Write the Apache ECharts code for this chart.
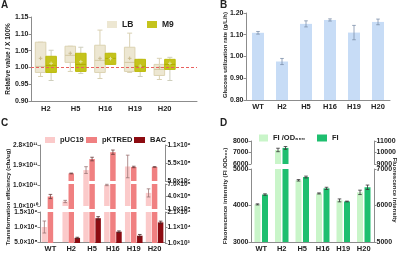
<!DOCTYPE html>
<html>
<head>
<meta charset="utf-8">
<script src="https://cdn.jsdelivr.net/npm/echarts@6/dist/echarts.min.js"></script>
<style>
html,body{margin:0;padding:0;background:#fff}
#main{width:400px;height:253px}
</style>
</head>
<body>
<div id="main"></div>
<script>
// ---- data ----
// A: box plots, rows are [min, Q1, median, Q3, max, mean]
var strainsA = ['H2', 'H5', 'H16', 'H19', 'H20'];
var boxLB = [
	[0.973, 0.985, 1.003, 1.075, 1.075, 1.027],
	[0.988, 1.015, 1.036, 1.063, 1.063, 1.042],
	[0.967, 0.985, 1.021, 1.066, 1.111, 1.027],
	[0.985, 0.988, 1.015, 1.060, 1.102, 1.027],
	[0.964, 0.976, 0.994, 1.009, 1.027, 1.000]
];
var boxM9 = [
	[0.961, 0.985, 1.006, 1.033, 1.051, 1.012],
	[0.982, 0.988, 1.009, 1.042, 1.060, 1.017],
	[1.009, 1.009, 1.027, 1.042, 1.042, 1.026],
	[0.973, 0.988, 1.003, 1.024, 1.024, 1.004],
	[0.961, 0.994, 1.009, 1.024, 1.030, 1.012]
];
var refLine = 1.0;

// B: glucose utilization rate
var strains = ['WT', 'H2', 'H5', 'H16', 'H19', 'H20'];
var glucoseRate = [1.109, 0.977, 1.150, 1.168, 1.110, 1.159];
var glucoseErr = [0.006, 0.014, 0.014, 0.005, 0.033, 0.013];

// C: transformation efficiency
var pUC19 = [1.0e9, 3.0e10, 1.69e11, 1.03e11, 1.85e11, 6.8e10];
var pUC19Err = [0.2e9, 0.5e10, 1.5e10, 0.3e10, 5e10, 1.8e10];
var pKTRED = [4.0e5, 2.6e8, 6.6e8, 8.5e8, 4.4e8, 4.4e8];
var pKTREDErr = [0.5e5, 0.1e8, 0.5e8, 0.6e8, 0.2e8, 0.1e8];
var BAC = ['-', 4.3e3, 1.7e4, 8.3e3, 5.7e3, 1.43e4];
var BACErr = [0, 0.4e3, 1.0e3, 0.5e3, 0.8e3, 0.8e3];
// C tick values and labels, per axis segment
var ticksL1 = [1e10, 1e11, 1.9e11, 2.8e11];
var labelsL1 = ['1.0×10¹⁰', '1.0×10¹¹', '1.9×10¹¹', '2.8×10¹¹'];
var ticksL2 = [5e8, 1e9, 1.5e9];
var labelsL2 = ['5.0×10⁸', '1.0×10⁹', '1.5×10⁹'];
var ticksR1 = [5e7, 5.5e8, 1.05e9];
var labelsR1 = ['5.0×10⁷', '5.5×10⁸', '1.1×10⁹'];
var ticksR2 = [1e5, 4e5, 7e5];
var labelsR2 = ['1.0×10⁵', '4.0×10⁵', '7.0×10⁵'];
var ticksR3 = [1e3, 1.1e4, 2.1e4];
var labelsR3 = ['1.0×10³', '1.1×10⁴', '2.1×10⁴'];

// D: fluorescence
var fiOd = [4030, 7220, 4690, 4330, 4140, 4360];
var fiOdErr = [15, 150, 20, 15, 40, 60];
var fi = [6300, 10400, 6780, 6470, 6110, 6500];
var fiErr = [20, 120, 25, 30, 10, 60];
var ticksDLeftUp = [6000, 7000, 8000];
var ticksDLeftLow = [3000, 4000, 5000];
var ticksDRightUp = [9000, 10000, 11000];
var ticksDRightLow = [5000, 6000, 7000];

// ---- styles ----
var FONT = 'Liberation Sans';
var AXIS_COLOR = '#8c8c8c';
var TXT = '#222';

function pick(vals, labels) {
	return function (v) {
		var best = 0;
		for (var i = 1; i < vals.length; i++) {
			if (Math.abs(vals[i] - v) < Math.abs(vals[best] - v)) best = i;
		}
		return labels ? labels[best] : String(vals[best]);
	};
}

function tickAxis(grid, pos, min, max, vals, labels, fs) {
	return {
		gridIndex: grid, type: 'value', position: pos, min: min, max: max,
		axisLine: {show: true, onZero: false, lineStyle: {color: AXIS_COLOR, width: 1}},
		axisTick: {show: true, length: 2.5, customValues: vals, lineStyle: {color: AXIS_COLOR}},
		axisLabel: {customValues: vals, formatter: pick(vals, labels), fontSize: fs || 6.5, margin: 2.5,
			color: TXT, fontWeight: 'bold', fontFamily: FONT},
		splitLine: {show: false}
	};
}

function catAxis(grid, show) {
	return {
		gridIndex: grid, type: 'category', data: strains, show: show,
		axisLine: {onZero: false, lineStyle: {color: AXIS_COLOR, width: 1}},
		axisTick: {show: false},
		axisLabel: {fontSize: 7.5, margin: 3, color: TXT, fontWeight: 'bold', fontFamily: FONT}
	};
}

// error bars drawn at (category, value) with a pixel shift for grouped bars
function errorSeries(xi, yi, vals, errs, dx, color) {
	return {
		type: 'custom', xAxisIndex: xi, yAxisIndex: yi, z: 5, silent: true,
		data: vals.map(function (v, i) { return [i, v, errs[i]]; }),
		renderItem: function (params, api) {
			var i = api.value(0), v = api.value(1), e = api.value(2);
			if (isNaN(v)) return;
			var cs = params.coordSys;
			var top = api.coord([i, v]);
			if (top[1] < cs.y - 0.5 || top[1] > cs.y + cs.height + 0.5) return;
			var x = top[0] + dx;
			var y1 = Math.max(cs.y, api.coord([i, v + e])[1]);
			var y2 = Math.min(cs.y + cs.height, api.coord([i, v - e])[1]);
			var st = {stroke: color, lineWidth: 0.8};
			return {type: 'group', children: [
				{type: 'line', shape: {x1: x, y1: y1, x2: x, y2: y2}, style: st},
				{type: 'line', shape: {x1: x - 1.8, y1: y1, x2: x + 1.8, y2: y1}, style: st},
				{type: 'line', shape: {x1: x - 1.8, y1: y2, x2: x + 1.8, y2: y2}, style: st}
			]};
		}
	};
}

function boxSeries(name, rows, side, c) {
	return {
		type: 'custom', name: name, xAxisIndex: 0, yAxisIndex: 0,
		itemStyle: {color: c.fill, borderColor: c.stroke},
		data: rows.map(function (r, i) { return [i].concat(r); }),
		renderItem: function (params, api) {
			var i = api.value(0);
			var bw = api.size([1, 0])[0] * 0.355;
			var cx = api.coord([i, 1])[0];
			var x0 = side < 0 ? cx - bw : cx;
			var xm = x0 + bw / 2;
			var y = function (k) { return api.coord([i, api.value(k)])[1]; };
			var ln = function (x1, y1, x2, y2, col) {
				return {type: 'line', shape: {x1: x1, y1: y1, x2: x2, y2: y2}, style: {stroke: col, lineWidth: 1}};
			};
			var yMin = y(1), yQ1 = y(2), yMed = y(3), yQ3 = y(4), yMax = y(5), yMean = y(6);
			return {type: 'group', children: [
				ln(xm, yMax, xm, yQ3, c.whisker), ln(xm - 2.5, yMax, xm + 2.5, yMax, c.whisker),
				ln(xm, yQ1, xm, yMin, c.whisker), ln(xm - 2.5, yMin, xm + 2.5, yMin, c.whisker),
				{type: 'rect', shape: {x: x0, y: yQ3, width: bw, height: yQ1 - yQ3},
					style: {fill: c.fill, stroke: c.stroke, lineWidth: 1}},
				ln(x0, yMed, x0 + bw, yMed, c.median),
				ln(xm - 1.8, yMean, xm + 1.8, yMean, c.mean), ln(xm, yMean - 1.8, xm, yMean + 1.8, c.mean)
			]};
		}
	};
}

function legendOne(name, left, top, fs, iw, ih) {
	return {
		data: [name], left: left, top: top, itemWidth: iw, itemHeight: ih, padding: 0,
		icon: 'rect', selectedMode: false,
		textStyle: {fontSize: fs, fontWeight: 'bold', color: TXT, fontFamily: FONT}
	};
}

function titleText(str, x, y, rot, fs) {
	return {
		type: 'text', x: x, y: y, rotation: rot,
		style: {text: str, fontSize: fs, fontWeight: 'bold', fontFamily: FONT, fill: TXT,
			align: 'center', verticalAlign: 'middle'}
	};
}

// ---- layout ----
var grids = [
	{left: 31, top: 17, width: 166, height: 84},   // A
	{left: 246, top: 13, width: 144, height: 87},  // B
	{left: 40, top: 145, width: 125, height: 61},  // C left upper
	{left: 40, top: 212, width: 125, height: 31},  // C left lower
	{left: 40, top: 145, width: 125, height: 36},  // C right upper
	{left: 40, top: 184, width: 125, height: 25},  // C right middle
	{left: 40, top: 212, width: 125, height: 31},  // C right lower
	{left: 251, top: 141, width: 123, height: 23}, // D upper
	{left: 251, top: 169, width: 123, height: 74}  // D lower
];

var xAxes = [
	{
		gridIndex: 0, type: 'value', min: -0.5, max: 5.09,
		axisLine: {onZero: false, lineStyle: {color: AXIS_COLOR, width: 1}},
		axisTick: {show: false}, splitLine: {show: false},
		axisLabel: {customValues: [0, 1, 2, 3, 4], formatter: function (v) { return strainsA[Math.round(v)]; },
			fontSize: 7.5, margin: 4, color: TXT, fontWeight: 'bold', fontFamily: FONT}
	},
	catAxis(1, true),
	catAxis(2, false), catAxis(3, true),
	catAxis(4, false), catAxis(5, false), catAxis(6, false),
	catAxis(7, false), catAxis(8, true)
];

var yA = tickAxis(0, 'left', 0.9, 1.15, [0.9, 0.95, 1.0, 1.05, 1.1, 1.15],
	['0.90', '0.95', '1.00', '1.05', '1.10', '1.15'], 7);
var yB = tickAxis(1, 'left', 0.8, 1.2, [0.8, 0.9, 1.0, 1.1, 1.2],
	['0.80', '0.90', '1.00', '1.10', '1.20'], 7);
var yAxes = [
	yA, yB,
	tickAxis(2, 'left', 1e10, 2.8e11, ticksL1, labelsL1),
	tickAxis(3, 'left', 5e8, 1.5e9, ticksL2, labelsL2),
	tickAxis(4, 'right', 5e7, 1.05e9, ticksR1, labelsR1),
	tickAxis(5, 'right', 1e5, 7e5, ticksR2, labelsR2),
	tickAxis(6, 'right', 1e3, 2.1e4, ticksR3, labelsR3),
	tickAxis(7, 'left', 6000, 8000, ticksDLeftUp, null, 7),
	tickAxis(7, 'right', 9000, 11000, ticksDRightUp, null, 7),
	tickAxis(8, 'left', 3000, 5000, ticksDLeftLow, null, 7),
	tickAxis(8, 'right', 5000, 7000, ticksDRightLow, null, 7)
];

var series = [];

// A
var lbStyle = {fill: '#ede7d2', stroke: '#dcd3b2', whisker: '#d9d1b3', median: '#d2c7a0', mean: '#c9bb8f'};
var m9Style = {fill: '#c4c31c', stroke: '#bcbb0c', whisker: '#cfcfbd', median: '#adac00', mean: '#e4e39a'};
series.push(boxSeries('LB', boxLB, -1, lbStyle));
series.push(boxSeries('M9', boxM9, 1, m9Style));
// dashed reference line at 1.00 across the whole plot
series.push({
	type: 'custom', xAxisIndex: 0, yAxisIndex: 0, z: 10, silent: true,
	data: [[0, refLine]],
	renderItem: function (params, api) {
		var cs = params.coordSys;
		var y = Math.round(api.coord([0, api.value(1)])[1]) + 0.5;
		return {type: 'line', shape: {x1: cs.x, y1: y, x2: cs.x + cs.width, y2: y},
			style: {stroke: '#e8605f', lineWidth: 1, lineDash: [3, 2]}};
	}
});

// B
series.push({
	type: 'bar', xAxisIndex: 1, yAxisIndex: 1, data: glucoseRate, barWidth: 12,
	itemStyle: {color: '#c7dcf6'}
});
series.push(errorSeries(1, 1, glucoseRate, glucoseErr, 0, '#7d90ab'));

// C: each axis segment gets all three bars so the groups line up
var cSeries = [
	{name: 'pUC19', vals: pUC19, errs: pUC19Err, color: '#fbcaca', err: '#9a7474', dx: -6.05},
	{name: 'pKTRED', vals: pKTRED, errs: pKTREDErr, color: '#f08081', err: '#6b3d3d', dx: 0},
	{name: 'BAC', vals: BAC, errs: BACErr, color: '#8c0b11', err: '#4a2a2a', dx: 6.05}
];
var cSegments = [
	{axis: 2, use: ['pUC19']}, {axis: 3, use: ['pUC19']},
	{axis: 4, use: ['pKTRED', 'BAC']}, {axis: 5, use: ['pKTRED', 'BAC']}, {axis: 6, use: ['pKTRED', 'BAC']}
];
var empty = strains.map(function () { return '-'; });
cSegments.forEach(function (seg) {
	cSeries.forEach(function (s) {
		var on = seg.use.indexOf(s.name) >= 0;
		series.push({
			type: 'bar', name: s.name, xAxisIndex: seg.axis, yAxisIndex: seg.axis,
			data: on ? s.vals : empty, barWidth: 5.5, barGap: '10%',
			itemStyle: {color: s.color}
		});
		if (on) series.push(errorSeries(seg.axis, seg.axis, s.vals, s.errs, s.dx, s.err));
	});
});

// D
[[7, 7, 8], [8, 9, 10]].forEach(function (d) {
	series.push({type: 'bar', name: 'FI /OD₆₀₀', xAxisIndex: d[0], yAxisIndex: d[1], data: fiOd,
		barWidth: 6, barGap: '25%', itemStyle: {color: '#c9f5c9'}});
	series.push({type: 'bar', name: 'FI', xAxisIndex: d[0], yAxisIndex: d[2], data: fi,
		barWidth: 6, barGap: '25%', itemStyle: {color: '#1ebf6f'}});
	series.push(errorSeries(d[0], d[1], fiOd, fiOdErr, -3.75, '#333'));
	series.push(errorSeries(d[0], d[2], fi, fiErr, 3.75, '#333'));
});

var option = {
	animation: false,
	textStyle: {fontFamily: FONT},
	grid: grids,
	xAxis: xAxes,
	yAxis: yAxes,
	legend: [
		legendOne('LB', 107, 20, 8.5, 10, 7),
		legendOne('M9', 147, 20, 8.5, 10, 7),
		legendOne('pUC19', 45, 136, 7.5, 10, 6),
		legendOne('pKTRED', 86, 136, 7.5, 11, 6),
		legendOne('BAC', 134, 136, 7.5, 11, 6),
		legendOne('FI /OD₆₀₀', 259, 134, 7.5, 9, 7),
		legendOne('FI', 317, 134, 7.5, 10, 7)
	],
	graphic: [
		{type: 'text', left: 1, top: 0, style: {text: 'A', fontSize: 10, fontWeight: 'bold', fontFamily: FONT, fill: TXT}},
		{type: 'text', left: 220, top: 0, style: {text: 'B', fontSize: 10, fontWeight: 'bold', fontFamily: FONT, fill: TXT}},
		{type: 'text', left: 1, top: 118, style: {text: 'C', fontSize: 10, fontWeight: 'bold', fontFamily: FONT, fill: TXT}},
		{type: 'text', left: 220, top: 118, style: {text: 'D', fontSize: 10, fontWeight: 'bold', fontFamily: FONT, fill: TXT}},
		titleText('Relative value / X 100%', 8, 59, Math.PI / 2, 6.5),
		titleText('Glucose utilization rate (g/L/h)', 225, 55, Math.PI / 2, 6),
		titleText('Transformation efficiency (cfu/ug)', 8, 197, Math.PI / 2, 6),
		titleText('Fluorescence intensity (FI /OD₆₀₀)', 225, 196, Math.PI / 2, 6),
		titleText('Fluorescence intensity', 395, 190, -Math.PI / 2, 6)
	],
	series: series
};

var chart = echarts.init(document.getElementById('main'), null, {renderer: 'canvas'});
chart.setOption(option);
</script>
</body>
</html>
